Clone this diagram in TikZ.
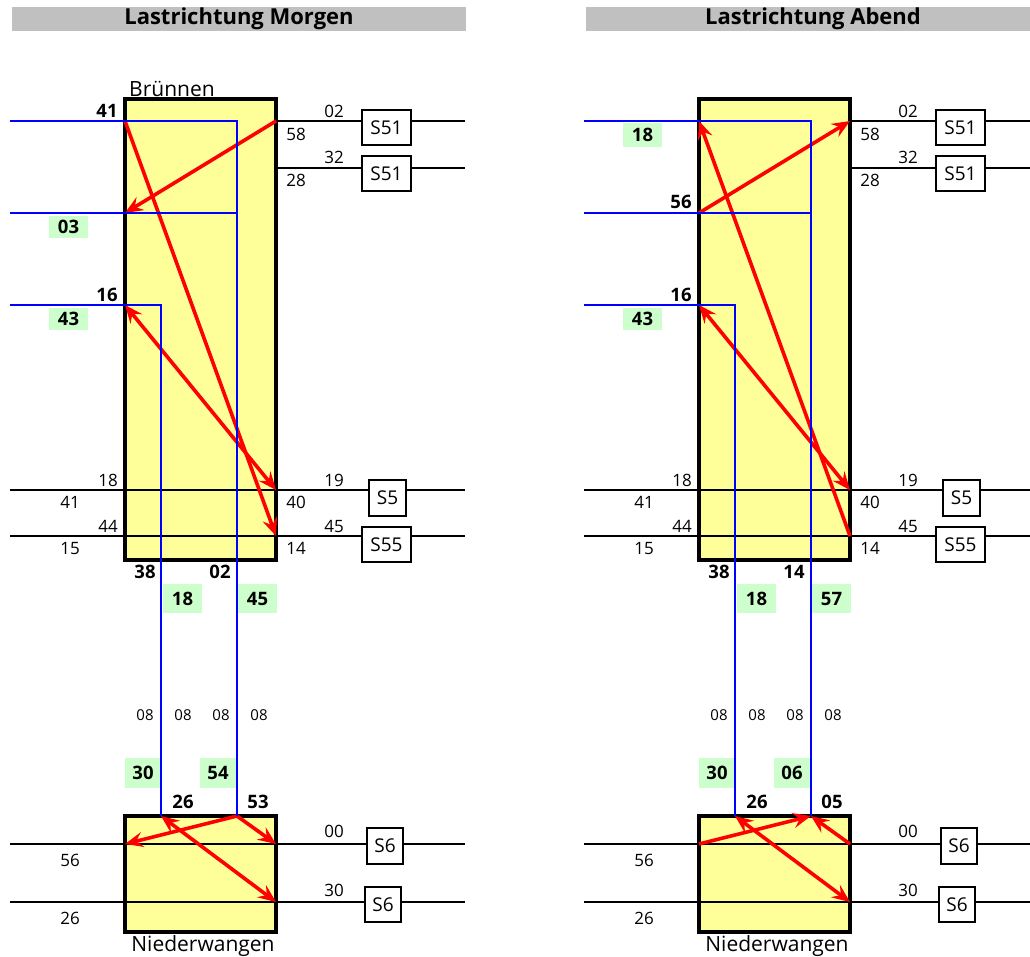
\documentclass[tikz,border=0pt]{standalone}
\usepackage{fontspec}
\setmainfont{Open Sans}
\usetikzlibrary{arrows.meta}
\definecolor{stationfill}{HTML}{FFFF99}
\definecolor{tagfill}{HTML}{CCFFCC}
\definecolor{barfill}{HTML}{C0C0C0}

% Parts that both load-direction panels share (local pixel coordinates)
\newcommand{\panelbase}{%
  % station boxes
  \node[station, minimum width=151pt, minimum height=461pt] (top) at (200.5,329.5) {};
  \node[station, minimum width=151pt, minimum height=116pt] (bot) at (200.5,874) {};
  % ports on the station boxes
  \coordinate (w1) at (125,121);
  \coordinate (w2) at (125,213);
  \coordinate (w3) at (125,305);
  \coordinate (e1) at (276,121);
  \coordinate (e2) at (276,168);
  \coordinate (e3) at (276,490);
  \coordinate (e4) at (276,536);
  \coordinate (nA) at (161,816);
  \coordinate (nB) at (237,816);
  \coordinate (nw1) at (125,844);
  \coordinate (ne1) at (276,844);
  \coordinate (ne2) at (276,902);
  % free track ends
  \coordinate (t1e) at (465,121);
  \coordinate (t2e) at (465,168);
  \coordinate (t3w) at (10,490);  \coordinate (t3e) at (465,490);
  \coordinate (t4w) at (10,536);  \coordinate (t4e) at (465,536);
  \coordinate (t5w) at (10,844);  \coordinate (t5e) at (465,844);
  \coordinate (t6w) at (10,902);  \coordinate (t6e) at (465,902);
  \coordinate (f1w) at (10,121);
  \coordinate (f2w) at (10,213);
  \coordinate (f3w) at (10,305);
  \coordinate (k1) at (237,121);
  \coordinate (k2) at (237,213);
  \coordinate (k3) at (161,305);
  % tracks
  \draw[track] (e1) -- (t1e);
  \draw[track] (e2) -- (t2e);
  \draw[track] (t3w) -- (t3e);
  \draw[track] (t4w) -- (t4e);
  \draw[track] (t5w) -- (t5e);
  \draw[track] (t6w) -- (t6e);
  % signals
  \node[sig, minimum width=49pt, minimum height=35pt] (s1) at (386.5,127.5) {S51};
  \node[sig, minimum width=49pt, minimum height=35pt] (s2) at (386.5,173.5) {S51};
  \node[sig, minimum width=37pt, minimum height=36pt] (s3) at (387.5,498) {S5};
  \node[sig, minimum width=49pt, minimum height=35pt] (s4) at (386.5,544.5) {S55};
  \node[sig, minimum width=36pt, minimum height=36pt] (s5) at (385,846) {S6};
  \node[sig, minimum width=36pt, minimum height=35pt] (s6) at (383,904.5) {S6};
  % track numbers
  \node[num] (l02) at (334,118) {02};
  \node[num] (l58) at (296,141) {58};
  \node[num] (l32) at (334,164) {32};
  \node[num] (l28) at (296,187) {28};
  \node[num] (l18) at (108,486) {18};
  \node[num] (l41) at (70,508) {41};
  \node[num] (l44) at (108,532) {44};
  \node[num] (l15) at (70,554) {15};
  \node[num] (l19) at (334,486) {19};
  \node[num] (l40) at (296,508) {40};
  \node[num] (l45) at (334,532) {45};
  \node[num] (l14) at (296,554) {14};
  \node[num] (l00) at (334,837) {00};
  \node[num] (l56) at (70,866) {56};
  \node[num] (l30) at (334,896) {30};
  \node[num] (l26) at (70,924) {26};
  % feeder numbers
  \node[smallnum] (c1) at (145,720) {08};
  \node[smallnum] (c2) at (183,720) {08};
  \node[smallnum] (c3) at (221,720) {08};
  \node[smallnum] (c4) at (259,720) {08};
  \node[bnum] (b16) at (107,302) {16};
  \node[tag, minimum width=39pt, minimum height=22pt] (g43) at (68.5,319) {43};
  \node[bnum] (b38) at (145,578) {38};
  \node[tag, minimum width=39pt, minimum height=29pt] (g18) at (182.5,598.5) {18};
  \node[tag, minimum width=36pt, minimum height=30pt] (g30) at (143,773) {30};
  \node[bnum] (b26) at (183,808) {26};
  \node[placename, anchor=base] (nw) at (203,951) {Niederwangen};
}

% Feeder lines, drawn last so they lie over the load flows
\newcommand{\panelfeeders}{%
  \draw[feeder] (f1w) -- (k1) -- (nB);
  \draw[feeder] (f2w) -- (k2);
  \draw[feeder] (f3w) -- (k3) -- (nA);
}

\begin{document}
\begin{tikzpicture}[x=1pt, y=-1pt,
  >={Stealth[length=18pt, width=15pt, inset=6.5pt]},
  station/.style={fill=stationfill, draw=black, line width=3.2pt, inner sep=0pt, outer sep=0pt},
  track/.style={draw=black, line width=1.5pt},
  feeder/.style={draw=blue, line width=2.3pt},
  flow/.style={draw=red, line width=3.6pt, ->},
  flowboth/.style={draw=red, line width=3.6pt, <->},
  sig/.style={draw=black, fill=white, line width=1.5pt, inner sep=0pt,
    font=\fontsize{19pt}{21pt}\selectfont},
  num/.style={inner sep=0pt, anchor=base, font=\fontsize{17pt}{19pt}\selectfont},
  smallnum/.style={inner sep=0pt, anchor=base, font=\fontsize{15pt}{17pt}\selectfont},
  bnum/.style={inner sep=0pt, anchor=base, font=\fontsize{18.5pt}{20pt}\selectfont\bfseries},
  tag/.style={fill=tagfill, inner sep=0pt, font=\fontsize{18.5pt}{20pt}\selectfont\bfseries},
  headbar/.style={fill=barfill, inner sep=0pt, minimum width=454pt, minimum height=24pt,
    font=\fontsize{22pt}{24pt}\selectfont\bfseries},
  placename/.style={inner sep=0pt, font=\fontsize{21pt}{23pt}\selectfont},
]
\useasboundingbox (0,0) rectangle (1030,957);

% ---------- morning load direction ----------
\begin{scope}[name prefix=M-]
  \node[headbar] (hdr) at (239,19) {Lastrichtung Morgen};
  \panelbase
  \node[placename, anchor=base west] (br) at (129,97) {Brünnen};
  \node[bnum] (b41) at (107,118) {41};
  \node[tag, minimum width=39pt, minimum height=22pt] (g03) at (68.5,227) {03};
  \node[bnum] (b02) at (220,578) {02};
  \node[tag, minimum width=39pt, minimum height=29pt] (g45) at (257.5,598.5) {45};
  \node[tag, minimum width=36pt, minimum height=30pt] (g54) at (218,773) {54};
  \node[bnum] (b53) at (258,808) {53};
  % load flows
  \draw[flow] (w1) -- (e4);
  \draw[flow] (e1) -- (w2);
  \draw[flowboth] (w3) -- (e3);
  \draw[flow] (nB) -- (nw1);
  \draw[flow] (nB) -- (ne1);
  \draw[flowboth] (nA) -- (ne2);
  \panelfeeders
\end{scope}

% ---------- evening load direction ----------
\begin{scope}[xshift=574pt, name prefix=A-]
  \node[headbar] (hdr) at (239,19) {Lastrichtung Abend};
  \panelbase
  \node[tag, minimum width=39pt, minimum height=24pt] (g18t) at (68.5,135) {18};
  \node[bnum] (b56) at (107,209) {56};
  \node[bnum] (b14) at (220,578) {14};
  \node[tag, minimum width=39pt, minimum height=29pt] (g57) at (257.5,598.5) {57};
  \node[tag, minimum width=36pt, minimum height=30pt] (g06) at (218,773) {06};
  \node[bnum] (b05) at (258,808) {05};
  % load flows
  \draw[flow] (e4) -- (w1);
  \draw[flow] (w2) -- (e1);
  \draw[flowboth] (w3) -- (e3);
  \draw[flow] (nw1) -- (nB);
  \draw[flow] (ne1) -- (nB);
  \draw[flowboth] (nA) -- (ne2);
  \panelfeeders
\end{scope}
\end{tikzpicture}
\end{document}
